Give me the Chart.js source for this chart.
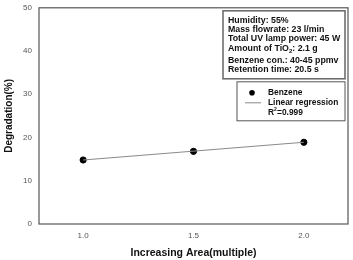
<!DOCTYPE html>
<html>
<head>
<meta charset="utf-8">
<script src="https://cdn.jsdelivr.net/npm/chart.js@4/dist/chart.umd.min.js"></script>
<style>
  html, body { margin: 0; padding: 0; background: #fff; }
  #wrap { width: 353px; height: 260px; }
</style>
</head>
<body>
<div id="wrap"><canvas id="chart" width="353" height="260"></canvas></div>
<script>
// data
var areaX = [1.0, 1.5, 2.0];
var benzeneY = [14.8, 16.8, 18.9];
var regX = [1.0, 2.0];
var regY = [14.8, 18.9];
var xTicks = [1.0, 1.5, 2.0];
var infoLines = ['Humidity: 55%', 'Mass flowrate: 23 l/min', 'Total UV lamp power: 45 W',
                 'Amount of TiO|2|: 2.1 g', 'Benzene con.: 40-45 ppmv', 'Retention time: 20.5 s'];

var FONT = '"Liberation Sans", Arial, sans-serif';

function toPoints( xs, ys )
{
    var pts = [];
    for ( var i = 0; i < xs.length; i++ ) pts.push( { x: xs[i], y: ys[i] } );
    return pts;
}

// frame round the plot and the two text boxes
var boxesPlugin = {
    id: 'boxes',
    afterDraw: function( chart ) {
        var ctx = chart.ctx, a = chart.chartArea;
        ctx.save();
        ctx.strokeStyle = '#555';
        ctx.lineWidth = 1.2;
        ctx.strokeRect( a.left, a.top, a.right - a.left, a.bottom - a.top );

        // info box
        var bx = a.right - 125, by = a.top + 3;
        ctx.fillStyle = '#fff';
        ctx.fillRect( bx, by, 122, 68 );
        ctx.lineWidth = 1.5;
        ctx.strokeStyle = '#666';
        ctx.strokeRect( bx, by, 122, 68 );

        ctx.fillStyle = '#111';
        ctx.textBaseline = 'middle';
        var ys = [10, 19, 28, 38, 50, 59];
        for ( var i = 0; i < infoLines.length; i++ ) {
            var parts = infoLines[i].split( '|' );
            var x = bx + 5, y = by + ys[i];
            ctx.font = 'bold 8.8px ' + FONT;
            ctx.fillText( parts[0], x, y );
            if ( parts.length > 1 ) {
                x += ctx.measureText( parts[0] ).width;
                ctx.font = 'bold 6px ' + FONT;
                ctx.fillText( parts[1], x, y + 3 );
                x += ctx.measureText( parts[1] ).width;
                ctx.font = 'bold 8.8px ' + FONT;
                ctx.fillText( parts[2], x, y );
            }
        }

        // legend box
        var lx = a.right - 111, ly = a.top + 74;
        ctx.lineWidth = 1;
        ctx.strokeStyle = '#555';
        ctx.strokeRect( lx, ly, 108, 39 );
        ctx.fillStyle = '#000';
        ctx.beginPath();
        ctx.arc( lx + 15, ly + 11, 2.8, 0, Math.PI * 2 );
        ctx.fill();
        ctx.strokeStyle = '#888';
        ctx.beginPath();
        ctx.moveTo( lx + 8, ly + 21 );
        ctx.lineTo( lx + 24, ly + 21 );
        ctx.stroke();
        ctx.fillStyle = '#111';
        ctx.font = 'bold 8.4px ' + FONT;
        ctx.fillText( 'Benzene', lx + 31, ly + 11 );
        ctx.fillText( 'Linear regression', lx + 31, ly + 21 );
        ctx.fillText( 'R', lx + 31, ly + 31 );
        var rw = ctx.measureText( 'R' ).width;
        ctx.font = 'bold 5px ' + FONT;
        ctx.fillText( '2', lx + 31 + rw, ly + 28 );
        ctx.font = 'bold 8.4px ' + FONT;
        ctx.fillText( '=0.999', lx + 31 + rw + 3, ly + 31 );
        ctx.restore();
    }
};

var ctx = document.getElementById( 'chart' ).getContext( '2d' );
var chart = new Chart( ctx, {
    type: 'scatter',
    data: {
        datasets: [
            {
                label: 'Linear regression',
                data: toPoints( regX, regY ),
                showLine: true,
                borderColor: '#8a8a8a',
                borderWidth: 1.2,
                pointRadius: 0
            },
            {
                label: 'Benzene',
                data: toPoints( areaX, benzeneY ),
                backgroundColor: '#000',
                borderColor: '#000',
                pointRadius: 3.1
            }
        ]
    },
    options: {
        responsive: false,
        animation: false,
        layout: { padding: { left: 0, right: 1, top: 5, bottom: 0 } },
        plugins: { legend: { display: false }, tooltip: { enabled: false } },
        scales: {
            x: {
                type: 'linear',
                min: 0.8,
                max: 2.2,
                afterBuildTicks: function( scale ) {
                    scale.ticks = xTicks.map( function( v ) { return { value: v }; } );
                },
                afterFit: function( scale ) { scale.height = 36; },
                grid: { display: false, drawTicks: true, tickLength: 4, tickColor: '#666' },
                border: { display: false },
                ticks: {
                    padding: 3,
                    color: '#555',
                    font: { family: FONT, size: 8 },
                    callback: function( v ) { return v.toFixed( 1 ); }
                },
                title: {
                    display: true,
                    text: 'Increasing Area(multiple)',
                    color: '#111',
                    font: { family: FONT, size: 10.5, weight: 'bold' },
                    padding: { top: 0, bottom: 1 }
                }
            },
            y: {
                min: 0,
                max: 50,
                afterFit: function( scale ) { scale.width = 39; },
                grid: { display: false, drawTicks: true, tickLength: 4, tickColor: '#666' },
                border: { display: false },
                ticks: {
                    stepSize: 10,
                    padding: 3,
                    color: '#555',
                    font: { family: FONT, size: 8 }
                },
                title: {
                    display: true,
                    text: 'Degradation(%)',
                    color: '#111',
                    font: { family: FONT, size: 10, weight: 'bold' },
                    padding: { top: 3, bottom: 0 }
                }
            }
        }
    },
    plugins: [ boxesPlugin ]
});
</script>
</body>
</html>
